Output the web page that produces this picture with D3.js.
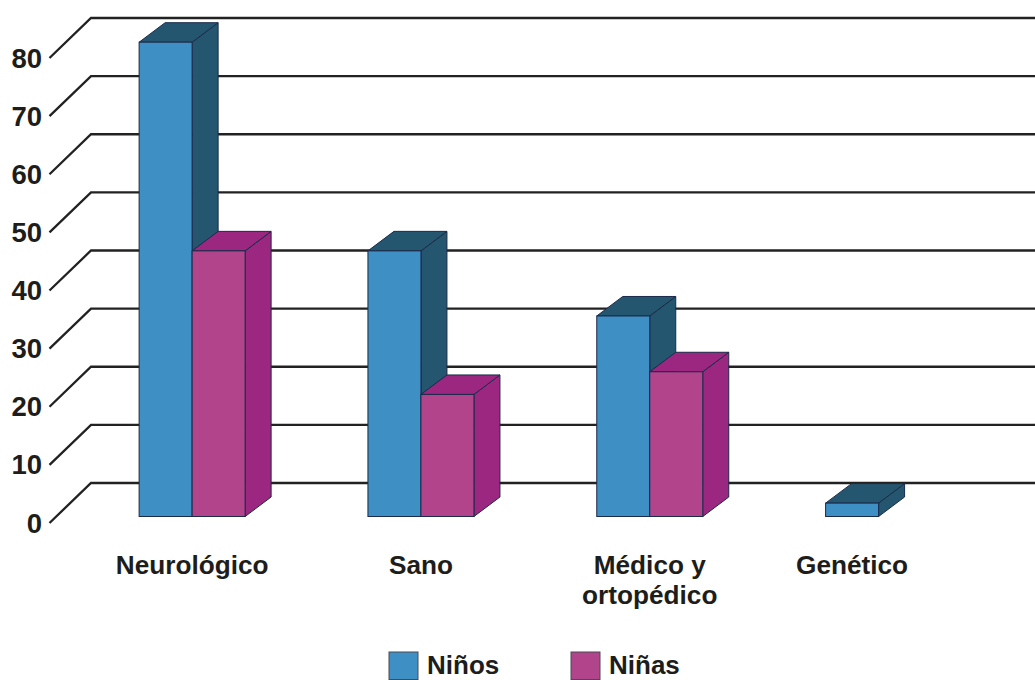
<!DOCTYPE html>
<html lang="es">
<head>
<meta charset="utf-8">
<script src="https://cdnjs.cloudflare.com/ajax/libs/d3/7.8.5/d3.min.js"></script>
<style>
html,body{margin:0;padding:0;background:#fff;overflow:hidden}
svg{display:block}
text{font-family:"Liberation Sans",Arial,sans-serif;font-weight:bold;fill:#1d1d1b}
</style>
</head>
<body>
<svg id="chart" width="1035" height="680"></svg>
<script>
// Diagnóstico por sexo
const categories = ["Neurológico", "Sano", "Médico y ortopédico", "Genético"];
const categoryLines = [["Neurológico"], ["Sano"], ["Médico y", "ortopédico"], ["Genético"]];
const series = ["Niños", "Niñas"];
const ninos = [81.6, 45.7, 34.5, 2.3];
const ninas = [45.7, 21, 24.9, 0];
const tickValues = [0, 10, 20, 30, 40, 50, 60, 70, 80];

const colors = {
  "Niños": {front: "#3d8fc4", side: "#25566f", top: "#25566f"},
  "Niñas": {front: "#b2448c", side: "#9c2780", top: "#9c2780"}
};
const edge = "#1b2a4a";

const svg = d3.select("#chart");

// Back wall scale; the floor is projected forward by a fixed offset
const y = d3.scaleLinear().domain([0, 80]).range([483, 18]);
const floorDrop = 33.5;
const depthX = 26, depthY = 19.5;

const x0 = d3.scaleBand().domain(categories).range([77.7, 993]).paddingInner(0).paddingOuter(0);
const x1 = d3.scaleBand().domain(series).range([-53, 53]);

// Gridlines with their slanted floor ticks
const grid = svg.append("g").attr("fill", "none").attr("stroke", "#222").attr("stroke-width", 2.3);
grid.selectAll("path").data(tickValues).join("path")
  .attr("d", d => `M49.5,${y(d) + 40}L91,${y(d)}H1035`);

// Value labels
svg.append("g").selectAll("text").data(tickValues).join("text")
  .attr("x", 42).attr("y", d => y(d) + 40 + 9.5)
  .attr("text-anchor", "end").attr("font-size", 27.5)
  .text(d => d);

// Three-faced bars, back series first so the front ones overlap correctly
const rows = series.flatMap(s => categories.map((c, i) => ({
  s, c, v: (s === "Niños" ? ninos : ninas)[i]
}))).filter(d => d.v > 0);

const bars = svg.append("g").selectAll("g").data(rows).join("g");
const xL = d => x0(d.c) + x0.bandwidth() / 2 + x1(d.s);
const xR = d => xL(d) + x1.bandwidth();
const yB = () => y(0) + floorDrop;
const yT = d => y(d.v) + floorDrop;

bars.append("path")
  .attr("fill", d => colors[d.s].side).attr("stroke", edge).attr("stroke-width", 1)
  .attr("d", d => `M${xR(d)},${yT(d)}l${depthX},${-depthY}V${yB() - depthY}l${-depthX},${depthY}Z`);
bars.append("path")
  .attr("fill", d => colors[d.s].top).attr("stroke", edge).attr("stroke-width", 1)
  .attr("d", d => `M${xL(d)},${yT(d)}l${depthX},${-depthY}H${xR(d) + depthX}l${-depthX},${depthY}Z`);
bars.append("rect")
  .attr("fill", d => colors[d.s].front).attr("stroke", edge).attr("stroke-width", 1)
  .attr("x", xL).attr("y", yT)
  .attr("width", x1.bandwidth()).attr("height", d => yB() - yT(d));

// Category labels, centred under whichever bars the category actually has
const labelCentre = (c, i) => {
  const mid = x0(c) + x0.bandwidth() / 2;
  return ninas[i] > 0 ? mid : mid + x1("Niños") + x1.bandwidth() / 2;
};
const catLabels = svg.append("g").selectAll("text").data(categories).join("text")
  .attr("text-anchor", "middle").attr("font-size", 26.2)
  .attr("transform", (d, i) => `translate(${labelCentre(d, i)},574)`);
catLabels.selectAll("tspan").data((d, i) => categoryLines[i]).join("tspan")
  .attr("x", 0).attr("dy", (d, i) => i ? 30 : 0).text(d => d);

// Legend
const legendX = d3.scalePoint().domain(series).range([389, 571]);
const legend = svg.append("g").selectAll("g").data(series).join("g")
  .attr("transform", d => `translate(${legendX(d)},652)`);
legend.append("rect").attr("width", 29).attr("height", 27.5)
  .attr("fill", d => colors[d].front).attr("stroke", "#4a4a55").attr("stroke-width", 1);
legend.append("text").attr("x", 38).attr("y", 22).attr("font-size", 26).text(d => d);
</script>
</body>
</html>
